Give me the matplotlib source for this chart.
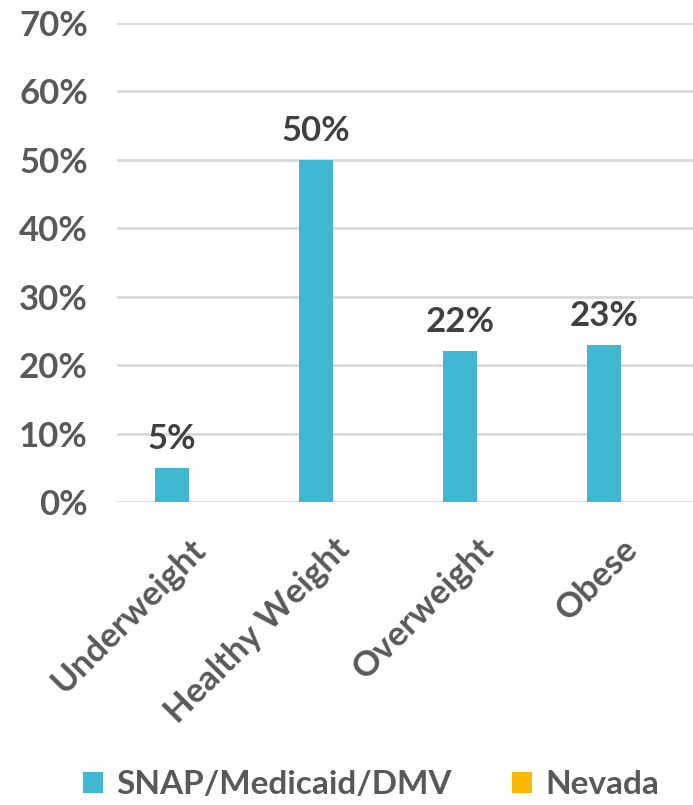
import matplotlib
matplotlib.use("Agg")
import matplotlib.pyplot as plt
import numpy as np
from matplotlib.ticker import PercentFormatter

categories = ["Underweight", "Healthy Weight", "Overweight", "Obese"]
snap_values = [0.05, 0.50, 0.22, 0.23]
nevada_values = [0, 0, 0, 0]
series_names = ["SNAP/Medicaid/DMV", "Nevada"]

plt.rcParams['font.family'] = ['Lato', 'DejaVu Sans']
grey = "#595959"

fig = plt.figure(figsize=(6.93, 8.05), dpi=100)
ax = fig.add_axes([0.169, 0.3764, 0.831, 0.595])

x = np.arange(len(categories))
w = 0.236
b1 = ax.bar(x - w / 2, snap_values, w, color="#40b8d1", label=series_names[0], zorder=3)
b2 = ax.bar(x + w / 2, nevada_values, w, color="#fbb800", label=series_names[1], zorder=3)

# data labels above the SNAP bars
for rect, v in zip(b1, snap_values):
    ax.text(rect.get_x() + rect.get_width() / 2, v + 0.019, f"{v:.0%}",
            ha="center", va="bottom", fontsize=25, fontweight="bold", color="#404040")

ax.set_xlim(-0.5, len(categories) - 0.5)
ax.set_ylim(0, 0.7)
ax.set_yticks(np.arange(0, 0.71, 0.1))
ax.yaxis.set_major_formatter(PercentFormatter(1.0, decimals=0))
ax.set_xticks(x)
ax.set_xticklabels(categories, rotation=45, ha="right", rotation_mode="anchor")
ax.grid(axis="y", color="#d9d9d9", linewidth=2, zorder=0)
for s in ax.spines.values():
    s.set_visible(False)
ax.tick_params(axis="both", length=0, labelsize=25, labelcolor=grey)
ax.tick_params(axis="y", pad=21)
ax.tick_params(axis="x", pad=22)
for lbl in ax.get_xticklabels() + ax.get_yticklabels():
    lbl.set_fontweight("bold")

leg = fig.legend(handles=[b1, b2], loc="lower center", bbox_to_anchor=(0.535, -0.03),
                 ncol=2, frameon=False, fontsize=24, handlelength=0.6, handleheight=0.6,
                 handletextpad=0.4, columnspacing=1.8)
for t in leg.get_texts():
    t.set_color(grey)
    t.set_fontweight("bold")

fig.savefig("out.png", dpi=100)
